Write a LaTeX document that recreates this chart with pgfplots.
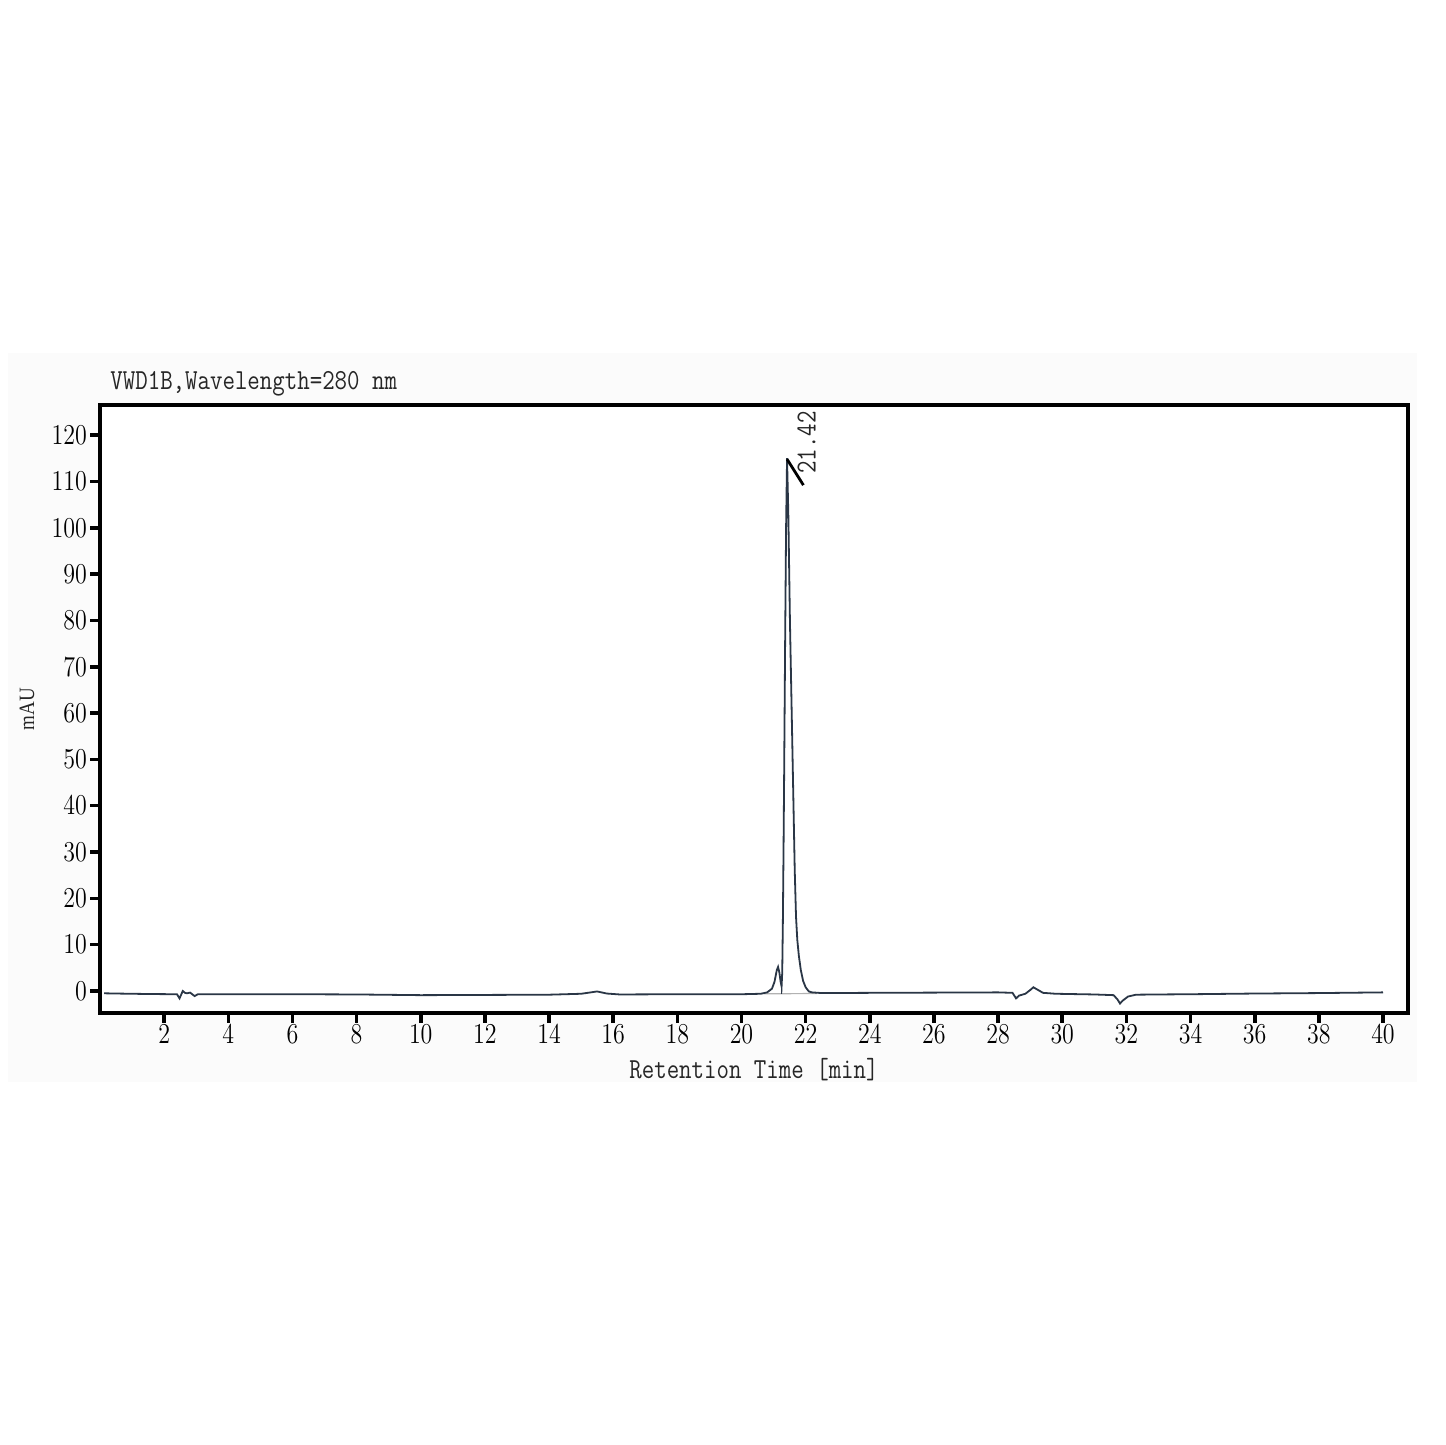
\documentclass[border=0pt]{standalone}
\usepackage{graphicx}
\usepackage{fontspec}
\usepackage{pgfplots}
\pgfplotsset{compat=1.18}
\newfontfamily\serifont{Liberation Serif}
\definecolor{trace}{HTML}{2A3646}
\newcommand{\lab}[1]{\ttfamily\fontsize{12.1}{13}\selectfont\scalebox{1}[1.2]{#1}}
\begin{document}
\begin{tikzpicture}
\path[fill=white] (0,0) rectangle (722.5pt,722.5pt);
\path[fill=black!1.5] (4pt,181.5pt) rectangle (708.5pt,546pt);
\begin{axis}[
  at={(50pt,216pt)}, anchor=south west,
  width=654pt, height=304pt, scale only axis,
  xmin=0, xmax=40.78, ymin=-4.75, ymax=126.5,
  axis background/.style={fill=white},
  axis line style={line width=1.7pt, black},
  xtick={2,4,...,40}, ytick={0,10,...,120},
  tick align=outside, xtick pos=left, ytick pos=left,
  major tick length=5pt,
  tick style={line width=1.8pt, black},
  ticklabel style={font=\fontsize{13}{14}\selectfont, black},
  xticklabel={\scalebox{1}[1.2]{$\pgfmathprintnumber{\tick}$}},
  yticklabel={\scalebox{1}[1.2]{$\pgfmathprintnumber{\tick}$}},
  xticklabel style={yshift=2.5pt},
  yticklabel style={xshift=2pt},
  clip=false,
]
% integration baseline and drop line
\addplot[black!30, line width=0.6pt] coordinates {(20.7,-0.6) (22.35,-0.55)};
\addplot[trace, line width=0.9pt] coordinates {(21.25,-0.6) (21.25,1.0)};
% chromatogram trace
\addplot[trace, line width=0.9pt] coordinates {
(0.13,-0.5) (0.5,-0.55) (1,-0.6) (1.5,-0.65) (2,-0.68) (2.4,-0.7)
(2.48,-1.6) (2.58,0) (2.65,-0.4) (2.71,-0.5) (2.81,-0.35) (2.95,-1.1) (3.05,-0.7)
(4,-0.7) (6,-0.7) (8,-0.75) (10,-0.9) (12,-0.85) (14,-0.8) (15.0,-0.6)
(15.5,-0.1) (15.8,-0.55) (16.2,-0.75) (18,-0.7) (20,-0.7) (20.6,-0.6)
(20.8,-0.3) (20.95,0.5) (21.03,2.0) (21.1,4.5) (21.14,5.2) (21.18,4.0)
(21.22,2.0) (21.25,1.0) (21.27,4) (21.29,15) (21.31,30) (21.33,47)
(21.36,75) (21.39,100) (21.42,115) (21.46,103) (21.51,80) (21.56,62)
(21.61,44) (21.66,26) (21.70,16) (21.74,11) (21.79,7.5) (21.85,4.5)
(21.92,2.2) (22.0,0.8) (22.1,-0.1) (22.2,-0.3) (22.5,-0.45) (24,-0.4)
(26,-0.35) (28,-0.3) (28.45,-0.4) (28.56,-1.6) (28.65,-1.0) (28.85,-0.6)
(29.0,0.2) (29.1,0.8) (29.25,0.2) (29.4,-0.4) (29.8,-0.6) (31,-0.75)
(31.6,-0.9) (31.72,-1.8) (31.8,-2.7) (31.9,-2.0) (32.05,-1.2) (32.3,-0.8)
(33,-0.75) (34,-0.7) (36,-0.55) (38,-0.45) (40,-0.3)
};
% peak marker
\addplot[black, line width=1.4pt] coordinates {(21.42,114.8) (21.93,109.2)};
\node[rotate=90, anchor=west, inner sep=0pt, text=black!85]
  at (axis cs:22.03,111.6) {\lab{21.42}};
% title and labels
\node[anchor=base west, inner sep=0pt, text=black!85]
  at (axis description cs:0.00765,1.026) {\lab{VWD1B,Wavelength=280 nm}};
\node[anchor=base, inner sep=0pt, text=black!85]
  at (axis description cs:0.5,-0.108) {\lab{Retention Time [min]}};
\node[rotate=90, anchor=center, inner sep=0pt, text=black!85]
  at (axis description cs:-0.0558,0.5) {\serifont\fontsize{9.5}{11}\selectfont\scalebox{1}[1.15]{mAU}};
\end{axis}
\end{tikzpicture}
\end{document}
